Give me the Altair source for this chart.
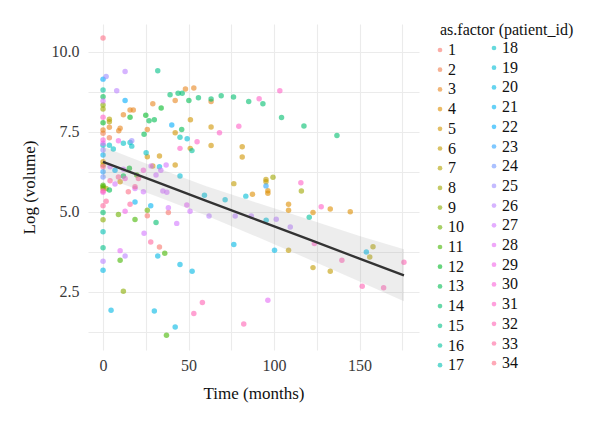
import math
import altair as alt
import pandas as pd

# ---- data (patient id, time in months, log volume) ----
patient_id = (
    [1] * 3 + [2] * 2 + [3] * 13 + [4] * 8 + [5] * 13 + [6] * 7 + [7] * 5 + [8] * 4
    + [9] * 3 + [10] * 3 + [11] * 6 + [12] * 5 + [13] * 8 + [14] * 14 + [15] * 2
    + [16] * 3 + [17] * 2 + [18] * 7 + [19] * 7 + [20] * 10 + [21] * 4 + [22] * 3
    + [23] * 2 + [24] * 1 + [25] * 3 + [26] * 9 + [27] * 16 + [28] * 4 + [29] * 3
    + [30] * 3 + [31] * 10 + [32] * 8 + [33] * 9 + [34] * 2
)
time_months = [
    25.9, 33.0, 38.2,
    0, 3.7,
    0, 3.7, 9.2, 10, 11.9, 15.8, 17.7, 25.9, 29.1, 42.2, 48.2, 53.1, 63.2,
    87.4, 96.4, 96.4, 108.5, 108.5, 122.8, 132.9, 144.6,
    0, 10, 25.9, 29.1, 33, 42.2, 42.2, 51, 51.1, 63.2, 63.2, 81.4, 81.4,
    0, 76.5, 95.3, 95.3, 108.5, 122.8, 132.9,
    0, 3.7, 3.7, 156, 157.9,
    0, 1.8, 99.4, 116,
    0, 0, 11.9,
    0, 9, 25.9,
    0, 10, 18.7, 19.7, 36.1, 37.1,
    0, 15.4, 15.8, 25, 34,
    0, 3.7, 11.9, 24, 26.9, 30, 46, 50.2,
    0, 31, 39.2, 43.9, 46.3, 55.8, 63.2, 69.1, 76.3, 85.2, 93.5, 104.4, 117.5, 136.8,
    0, 32,
    0, 52, 120.6,
    0, 45,
    0, 3.7, 6, 11.9, 15.8, 16.8, 25.2,
    33, 45, 49.2, 59.3, 71.4, 83.5, 95.4,
    0, 4.7, 30, 32, 42.2, 45, 52.1, 76.5, 100.3, 154,
    0, 7, 18.7, 27.9,
    0, 12.9, 40.2,
    0, 95.3,
    0,
    0, 1.8, 16.8,
    0, 8, 12.9, 12.9, 62, 77.3, 86.7, 101.3, 109.5,
    0, 4.1, 7, 11.9, 18.7, 23.6, 24, 28.1, 31, 33.8, 35, 36.9, 37.3, 38.2, 43.1, 50.9,
    0, 10, 49, 96.4,
    0, 9, 12.9,
    0, 12.9, 23.6,
    0, 45, 55, 68.1, 79.4, 91.3, 103.4, 115.7, 123.6, 127.6,
    0, 53.1, 58.1, 82.3, 139.7, 151.6, 164.1, 176,
    0, 0, 1.8, 4.1, 9, 15.8, 18.7, 20.7, 27.9,
    0, 14.8,
]
log_volume = [
    4.88, 3.90, 4.98,
    7.45, 7.31,
    7.55, 7.64, 7.53, 7.61, 8.03, 8.18, 8.18, 7.57, 8.37, 8.47, 8.83, 8.86, 8.44,
    5.55, 5.66, 5.58, 5.24, 5.05, 4.98, 5.09, 5.00,
    6.56, 5.94, 6.72, 6.43, 6.74, 6.46, 7.47, 6.98, 7.87, 7.07, 7.65, 7.03, 6.71,
    6.46, 5.88, 6.01, 5.94, 3.80, 3.26, 3.15,
    5.73, 7.89, 7.81, 3.59, 3.91,
    8.21, 5.73, 6.08, 5.65,
    8.33, 4.75, 2.52,
    5.78, 4.92, 5.05,
    5.83, 3.49, 4.76, 6.15, 3.71, 1.15,
    7.78, 6.36, 7.95, 8.01, 8.24,
    8.59, 5.68, 6.12, 7.42, 7.84, 7.87, 7.57, 8.47,
    4.98, 4.67, 8.65, 8.70, 8.70, 8.56, 8.52, 8.62, 8.58, 8.44, 8.37, 7.94, 7.68, 7.38,
    3.88, 9.40,
    8.80, 6.91, 4.83,
    4.38, 7.33,
    7.08, 7.08, 6.96, 7.14, 7.16, 7.05, 6.84,
    6.41, 6.12, 7.28, 5.52, 5.38, 5.49, 4.74,
    3.18, 1.93, 1.91, 3.62, 1.41, 3.36, 3.15, 3.98, 3.80, 3.75,
    6.77, 6.30, 5.31, 5.19,
    9.14, 8.47, 7.71,
    6.25, 5.81,
    6.09,
    6.93, 9.22, 7.22,
    3.46, 8.78, 9.38, 3.62, 4.87, 4.87, 4.87, 4.77, 4.53,
    8.46, 6.41, 5.87, 6.33, 5.73, 5.63, 4.33, 6.43, 6.15, 6.30, 5.65, 6.46, 5.61, 5.13, 4.64, 5.02,
    7.14, 3.79, 5.21, 2.24,
    5.61, 7.22, 5.02,
    7.24, 6.04, 6.30,
    7.95, 6.98, 7.19, 7.47, 7.67, 8.53, 8.78, 5.91, 4.01, 5.16,
    5.65, 1.83, 2.17, 1.50, 3.49, 2.68, 2.63, 3.43,
    5.19, 6.41, 5.33, 5.97, 6.09, 5.24, 5.78, 6.04, 4.06,
    10.42, 5.63,
]
patients = list(range(1, 35))

# fitted trend and its confidence band
fit_time = [0, 30, 60, 90, 120, 150, 176]
fit_value = [6.56, 5.96, 5.35, 4.75, 4.15, 3.54, 3.02]
band_low = [6.09, 5.51, 4.89, 4.22, 3.53, 2.83, 2.21]
band_high = [7.03, 6.41, 5.81, 5.28, 4.77, 4.25, 3.83]

df = pd.DataFrame({"patient": patient_id, "time": time_months, "logvol": log_volume})
fit_df = pd.DataFrame({"time": fit_time, "fit": fit_value, "lo": band_low, "hi": band_high})


# ---- ggplot2 default hue palette (hcl, c=100, l=65) ----
def hcl_hex(h, c=100.0, l=65.0):
    wy, wu, wv = 100.0, 0.1978398, 0.4683363
    hr = math.radians(h)
    U, V = c * math.cos(hr), c * math.sin(hr)
    Y = wy * (((l + 16) / 116) ** 3 if l > 7.999592 else l / 903.3)
    u = U / (13 * l) + wu
    v = V / (13 * l) + wv
    X = 9.0 * Y * u / (4 * v)
    Z = -X / 3 - 5 * Y + 3 * Y / v

    def g(t):
        t = t / wy
        t = 1.055 * t ** (1 / 2.4) - 0.055 if t > 0.00304 else 12.92 * t
        return max(0, min(255, round(255 * t)))

    r = g(3.240479 * X - 1.537150 * Y - 0.498535 * Z)
    gg = g(-0.969256 * X + 1.875992 * Y + 0.041556 * Z)
    b = g(0.055648 * X - 0.204043 * Y + 1.057311 * Z)
    return "#%02x%02x%02x" % (r, gg, b)


n_p = len(patients)
colors = [hcl_hex(15 + i * 360.0 / n_p) for i in range(n_p)]
half = (n_p + 1) // 2
pat_a, pat_b = patients[:half], patients[half:]
col_a, col_b = colors[:half], colors[half:]
df_a = df[df["patient"].isin(pat_a)]
df_b = df[df["patient"].isin(pat_b)]

FONT = "Liberation Serif"

x_scale = alt.Scale(domain=[-8.8, 184.8], nice=False, zero=False)
y_scale = alt.Scale(domain=[0.69, 10.86], nice=False, zero=False)

x_axis = alt.Axis(
    values=[0, 25, 50, 75, 100, 125, 150, 175],
    labelExpr="datum.value % 50 == 0 ? datum.label : ''",
    title="Time (months)",
    labelPadding=7,
    titlePadding=12,
)
y_axis = alt.Axis(
    values=[1.25, 2.5, 3.75, 5, 6.25, 7.5, 8.75, 10],
    labelExpr="datum.value % 2.5 == 0 ? format(datum.value, '.1f') : ''",
    title="Log (volume)",
    labelPadding=9,
    titlePadding=13,
)

leg_common = dict(
    orient="none",
    symbolLimit=0,
    symbolType="circle",
    symbolSize=22,
    symbolOpacity=0.6,
    symbolStrokeWidth=0,
    labelFontSize=16,
    titleFontSize=16,
    rowPadding=3.7,
    titlePadding=4,
    padding=0,
)


def make_legends():
    try:
        la = alt.Legend(title="as.factor (patient_id)", legendX=352, legendY=-2,
                        symbolOffset=-8, labelOffset=0, **leg_common)
        lb = alt.Legend(title=None, legendX=406, legendY=16,
                        symbolOffset=-8, labelOffset=0, **leg_common)
    except Exception:
        la = alt.Legend(title="as.factor (patient_id)", legendX=345, legendY=-2,
                        labelOffset=8, **leg_common)
        lb = alt.Legend(title=None, legendX=399, legendY=16,
                        labelOffset=8, **leg_common)
    return la, lb


legend_a, legend_b = make_legends()

points_a = alt.Chart(df_a).mark_circle(size=30, opacity=0.6).encode(
    x=alt.X("time:Q", scale=x_scale, axis=x_axis),
    y=alt.Y("logvol:Q", scale=y_scale, axis=y_axis),
    color=alt.Color("patient:N", scale=alt.Scale(domain=pat_a, range=col_a), legend=legend_a),
)
points_b = alt.Chart(df_b).mark_circle(size=30, opacity=0.6).encode(
    x=alt.X("time:Q", scale=x_scale),
    y=alt.Y("logvol:Q", scale=y_scale),
    color=alt.Color("patient:N", scale=alt.Scale(domain=pat_b, range=col_b), legend=legend_b),
)

band = alt.Chart(fit_df).mark_area(color="#999999", opacity=0.18).encode(
    x=alt.X("time:Q", scale=x_scale),
    y=alt.Y("lo:Q", scale=y_scale),
    y2="hi:Q",
)
line = alt.Chart(fit_df).mark_line(color="#333333", strokeWidth=2.3).encode(
    x=alt.X("time:Q", scale=x_scale),
    y=alt.Y("fit:Q", scale=y_scale),
)

chart = (
    alt.layer(points_a, points_b, band, line)
    .resolve_scale(color="independent")
    .properties(
        width=331,
        height=326,
        padding={"left": 88, "top": 24, "right": 181, "bottom": 73},
        autosize=alt.AutoSizeParams(type="none"),
        background="white",
    )
    .configure(font=FONT)
    .configure_view(stroke=None)
    .configure_axis(
        domain=False,
        ticks=False,
        grid=True,
        gridColor="#ebebeb",
        gridWidth=1.1,
        labelFont=FONT,
        titleFont=FONT,
        labelFontSize=16,
        titleFontSize=17,
        labelColor="#3a3a3a",
        titleColor="#111111",
        titleFontWeight="normal",
    )
    .configure_legend(
        labelFont=FONT,
        titleFont=FONT,
        labelColor="#111111",
        titleColor="#111111",
        titleFontWeight="normal",
    )
)

chart.save("out.html", embed_options={"renderer": "svg", "actions": False})
